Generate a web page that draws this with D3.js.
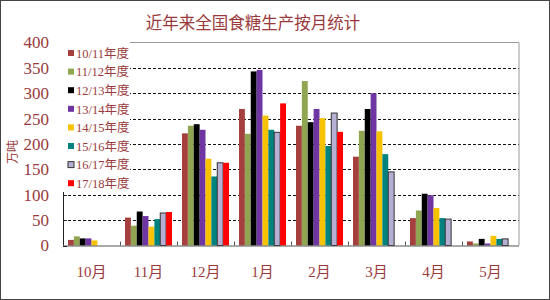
<!DOCTYPE html>
<html><head><meta charset="utf-8">
<script src="https://cdn.jsdelivr.net/npm/d3@7"></script>
<style>body{margin:0;background:#fff}svg{display:block}</style>
</head><body><svg id="c" width="550" height="300"></svg>
<script>
const months = ["10月","11月","12月","1月","2月","3月","4月","5月"];
const seriesNames = ["10/11年度","11/12年度","12/13年度","13/14年度","14/15年度","15/16年度","16/17年度","17/18年度"];
const s1011 = [11, 55, 221, 269, 236, 175, 54, 8];
const s1112 = [18, 39, 236, 220, 324, 226, 69, 4];
const s1213 = [14, 67, 239, 343, 243, 269, 102, 13];
const s1314 = [14, 58, 228, 346, 269, 300, 99, 4];
const s1415 = [10, 37, 171, 256, 251, 225, 74, 19];
const s1516 = [0, 52, 136, 228, 196, 180, 54, 13];
const s1617 = [0, 64, 163, 223, 261, 145, 52, 13];
const s1718 = [0, 66, 163, 280, 224, 0, 0, 0];
const yTicks = [0,50,100,150,200,250,300,350,400];

const values = [s1011,s1112,s1213,s1314,s1415,s1516,s1617,s1718];
const colors = ["#A5403E","#8FA552","#000000","#6E35A3","#F7C300","#00827F","#B7AED3","#FF0000"];
const strokes = [null,null,null,null,null,null,"#333333",null];
const textColor = "#9A3A3C";
const cjk = "'Liberation Serif','Noto Sans CJK SC',serif";

const svg = d3.select("#c");
svg.append("rect").attr("x",0.5).attr("y",0.5).attr("width",549).attr("height",299)
  .attr("fill","#fff").attr("stroke","#444");

const L=63, R=519, T=42.5, B=245.5;
const x = d3.scaleBand().domain(months).range([L,R]).padding(0);
const xi = d3.scaleBand().domain(seriesNames).range([5, x.bandwidth()-5]).padding(0);
const y = d3.scaleLinear().domain([0,400]).range([B,T]);

// gridlines
svg.append("g").selectAll("line").data(yTicks.filter(d=>d>0 && d<400)).join("line")
  .attr("x1",L).attr("x2",R).attr("y1",d=>Math.round(y(d))+0.5).attr("y2",d=>Math.round(y(d))+0.5)
  .attr("stroke","#111").attr("stroke-width",1).attr("stroke-dasharray","3,2");
// plot border top/right
svg.append("path").attr("d",`M${L},${T}H${R}V${B}`).attr("fill","none").attr("stroke","#999").attr("stroke-width",1);

// bars
const g = svg.append("g");
seriesNames.forEach((s,si)=>{
  g.append("g").selectAll("rect").data(months.map((m,mi)=>({m,v:values[si][mi]})).filter(d=>d.v>0)).join("rect")
    .attr("x",d=>x(d.m)+xi(s)).attr("width",xi.bandwidth())
    .attr("y",d=>y(d.v)).attr("height",d=>B-y(d.v))
    .attr("fill",colors[si])
    .attr("stroke",strokes[si]||"none").attr("stroke-width",strokes[si]?1:0);
});

// axes
const xAxis = svg.append("g").attr("transform",`translate(0,${B})`);
xAxis.append("line").attr("x1",L).attr("x2",R).attr("y1",0.5).attr("y2",0.5).attr("stroke","#555");
xAxis.selectAll("line.tk").data(months.slice(1)).join("line").attr("class","tk")
  .attr("x1",d=>x(d)+0.5).attr("x2",d=>x(d)+0.5).attr("y1",0).attr("y2",-4).attr("stroke","#555");
xAxis.selectAll("text").data(months).join("text")
  .attr("x",d=>x(d)+x.bandwidth()/2).attr("y",31).attr("text-anchor","middle")
  .attr("font-family",cjk).attr("font-size",15).attr("fill",textColor).text(d=>d);

const yAxis = svg.append("g");
yAxis.append("line").attr("x1",L+0.5).attr("x2",L+0.5).attr("y1",T).attr("y2",B).attr("stroke","#222");
yAxis.selectAll("line.tk").data(yTicks).join("line").attr("class","tk")
  .attr("x1",L).attr("x2",L+4).attr("y1",d=>Math.round(y(d))+0.5).attr("y2",d=>Math.round(y(d))+0.5).attr("stroke","#222");
yAxis.selectAll("text").data(yTicks).join("text")
  .attr("x",49).attr("y",d=>y(d)).attr("dy","0.35em").attr("text-anchor","end")
  .attr("font-family","'Liberation Serif',serif").attr("font-size",17).attr("fill",textColor).text(d=>d);

svg.append("text").attr("transform","translate(17,152) rotate(-90)").attr("text-anchor","middle")
  .attr("font-family","'Noto Sans CJK SC',sans-serif").attr("font-size",12).attr("fill",textColor).text("万吨");

// title
svg.append("text").attr("x",253).attr("y",23).attr("dy","0.35em").attr("text-anchor","middle")
  .attr("font-family","'Noto Sans CJK SC',sans-serif").attr("font-size",16.5).attr("fill",textColor)
  .text("近年来全国食糖生产按月统计");

// legend
const lg = svg.append("g");
lg.append("rect").attr("x",50).attr("y",39).attr("width",80).attr("height",153).attr("fill","#fff");
seriesNames.forEach((s,i)=>{
  const yy = 53 + i*18.6;
  lg.append("rect").attr("x",68).attr("y",yy-3).attr("width",6).attr("height",6)
    .attr("fill",colors[i]).attr("stroke",strokes[i]||"none");
  lg.append("text").attr("x",76).attr("y",yy).attr("dy","0.38em")
    .attr("font-family",cjk).attr("font-size",12.5).attr("fill",textColor).text(s);
});
</script></body></html>
